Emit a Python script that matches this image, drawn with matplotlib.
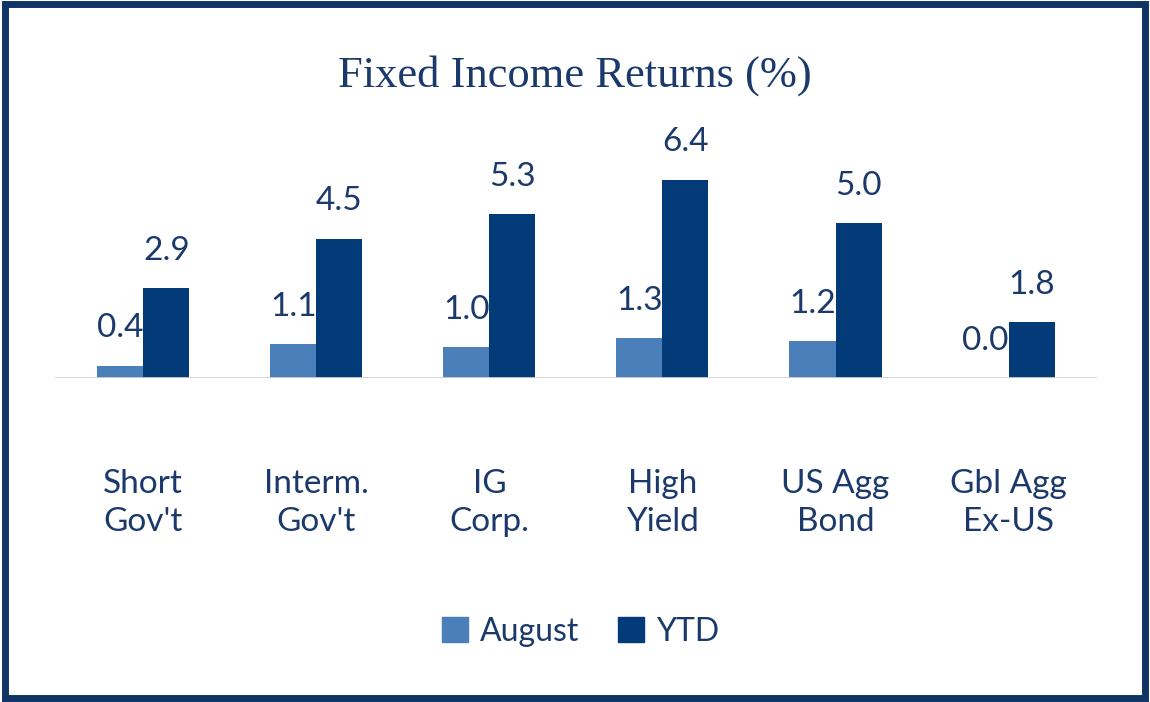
import matplotlib
matplotlib.use("Agg")
import matplotlib.pyplot as plt
from matplotlib.patches import Rectangle, Patch
import numpy as np

categories = ["Short\nGov't", "Interm.\nGov't", "IG\nCorp.", "High\nYield", "US Agg\nBond", "Gbl Agg\nEx-US"]
august = [0.4, 1.1, 1.0, 1.3, 1.2, 0.0]
ytd = [2.9, 4.5, 5.3, 6.4, 5.0, 1.8]
series_names = ["August", "YTD"]

c_aug = "#4a7fba"
c_ytd = "#033b78"
txt = "#1b3a6b"
font = "Lato"

fig = plt.figure(figsize=(11.5, 7.02), dpi=100)
fig.patches.append(Rectangle((0.004, 0.006), 0.992, 0.988, transform=fig.transFigure,
                             fill=False, edgecolor="#0f3566", linewidth=5))
fig.text(0.5, 0.893, "Fixed Income Returns (%)", ha="center", va="center",
         fontsize=32, color=txt, family="Liberation Serif")

ax = fig.add_axes([0.0478, 0.4615, 0.906, 0.396])
x = np.arange(len(categories))
w = 0.266
b1 = ax.bar(x - w/2, august, w, color=c_aug)
b2 = ax.bar(x + w/2, ytd, w, color=c_ytd)
ax.set_xlim(-0.51, 5.51)
ax.set_ylim(0, 8.97)
for bars, vals in ((b1, august), (b2, ytd)):
    for r, v in zip(bars, vals):
        ax.annotate(f"{v:.1f}", (r.get_x() + r.get_width()/2, v), xytext=(0, 16),
                    textcoords="offset points", ha="center", va="bottom",
                    fontsize=24, color=txt, family=font)
ax.axhline(0, color="#d0d0d0", linewidth=2)
for s in ax.spines.values():
    s.set_visible(False)
ax.set_xticks([]); ax.set_yticks([])
for xi, c in zip(x, categories):
    ax.text(xi, -2.95, c, ha="center", va="top", fontsize=24, color=txt,
            family=font, linespacing=1.3, transform=ax.transData, clip_on=False)

handles = [Patch(color=c_aug), Patch(color=c_ytd)]
fig.legend(handles, series_names, loc="center", bbox_to_anchor=(0.505, 0.1), ncol=2,
           frameon=False, prop={"family": font, "size": 23}, labelcolor=txt,
           handlelength=0.8, handleheight=0.8, handletextpad=0.4, columnspacing=1.2)
fig.savefig("out.png", dpi=100)
